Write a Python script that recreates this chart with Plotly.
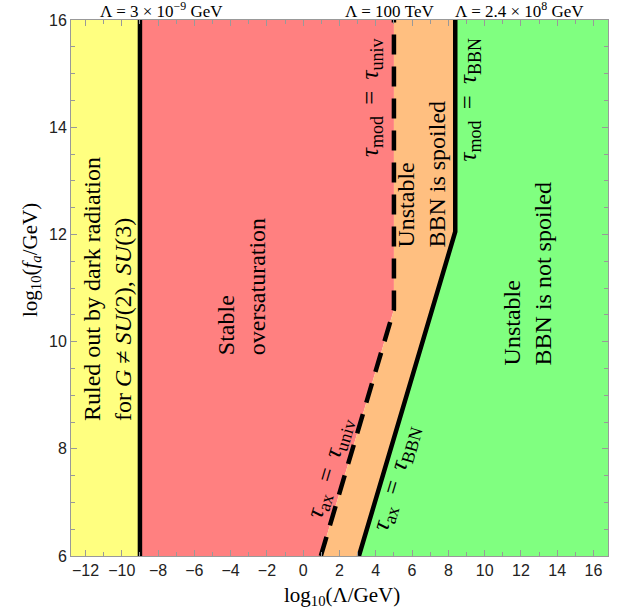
import plotly.graph_objects as go

# ---- data (log10 values) ----
x_min, x_max = -12.8, 16.8
y_min, y_max = 6.0, 16.0
dark_rad_x = -9.0                      # Lambda = 3e-9 GeV boundary
univ_x = [0.97, 5.0, 5.0]              # tau = tau_univ boundary
univ_y = [6.0, 10.6, 16.0]
bbn_x = [3.07, 8.38, 8.38]             # tau = tau_BBN boundary
bbn_y = [6.0, 12.05, 16.0]
x_ticks = list(range(-12, 17, 2))
y_ticks = list(range(6, 17, 2))

YELLOW = "#FFFF80"
RED = "#FF8080"
ORANGE = "#FFBF80"
GREEN = "#80FF80"

fig = go.Figure()

def poly(xs, ys, color):
    fig.add_trace(go.Scatter(x=xs, y=ys, fill="toself", fillcolor=color,
                             mode="lines", line=dict(width=0, color=color),
                             hoverinfo="skip", showlegend=False))

poly([x_min, dark_rad_x, dark_rad_x, x_min], [y_min, y_min, y_max, y_max], YELLOW)
poly([dark_rad_x] + univ_x + [dark_rad_x], [y_min] + univ_y + [y_max], RED)
poly(univ_x + bbn_x[::-1], univ_y + bbn_y[::-1], ORANGE)
poly(bbn_x + [x_max, x_max], bbn_y + [y_max, y_min], GREEN)

fig.add_trace(go.Scatter(x=[dark_rad_x, dark_rad_x], y=[y_min, y_max], mode="lines",
                         line=dict(color="black", width=4.5), showlegend=False))
fig.add_trace(go.Scatter(x=univ_x, y=univ_y, mode="lines",
                         line=dict(color="black", width=4.5, dash="20px,12px"), showlegend=False))
fig.add_trace(go.Scatter(x=bbn_x, y=bbn_y, mode="lines",
                         line=dict(color="black", width=4.5), showlegend=False))

SERIF = "Liberation Serif"
ann = []
def txt(x, y, t, size=24, angle=-90, xanchor="center", yanchor="middle", align="left"):
    ann.append(dict(x=x, y=y, xref="x", yref="y", text=t, showarrow=False,
                    textangle=angle, xanchor=xanchor, yanchor=yanchor, align=align,
                    font=dict(family=SERIF, size=size, color="black")))

SUB = "<sub><span style='font-size:18px'>%s</span></sub>"
def tau_eq(a, b):
    return "<i>τ</i>" + SUB % a + "&#8201; = &#8201;<i>τ</i>" + SUB % b

txt(-10.82, 8.48, "Ruled out by dark radiation<br>for <i>G</i> ≠ <i>SU</i>(2), <i>SU</i>(3)", yanchor="bottom")
txt(-3.4, 9.71, "Stable<br>oversaturation", yanchor="bottom")
txt(6.5, 11.71, "Unstable<br>BBN is spoiled", yanchor="bottom")
txt(12.34, 9.51, "Unstable<br>BBN is not spoiled", yanchor="bottom")
txt(3.75, 14.55, tau_eq("mod", "univ"), size=25)
txt(9.15, 14.52, tau_eq("mod", "BBN"), size=25)
txt(1.45, 7.64, tau_eq("ax", "univ"), size=25, angle=-73.5)
txt(5.15, 7.46, tau_eq("ax", "BBN"), size=25, angle=-73.5)

# top labels (paper coords)
for px, t in [(161, "Λ = 3 × 10<sup>−9</sup> GeV"), (389, "Λ = 100 TeV"),
              (519, "Λ = 2.4 × 10<sup>8</sup> GeV")]:
    ann.append(dict(x=(px - 71) / (608 - 71), y=1.0, xref="paper", yref="paper",
                    text=t, showarrow=False, xanchor="center", yanchor="bottom", yshift=-3,
                    font=dict(family=SERIF, size=17, color="black")))

# axis titles
ann.append(dict(x=(342 - 71) / (608 - 71), y=0, xref="paper", yref="paper",
                text="log<sub>10</sub>(Λ/GeV)", showarrow=False, xanchor="center",
                yanchor="top", yshift=-25, font=dict(family=SERIF, size=21, color="black")))
ann.append(dict(x=0, y=(556 - 260) / (556 - 20), xref="paper", yref="paper",
                text="log<sub>10</sub>(<i>f<sub>a</sub></i>/GeV)", showarrow=False,
                xanchor="center", yanchor="middle", xshift=-40, textangle=-90,
                font=dict(family=SERIF, size=21, color="black")))

axis_common = dict(showgrid=False, zeroline=False, showline=True, linecolor="#999999",
                   linewidth=1, mirror="ticks", ticks="inside", ticklen=6,
                   tickcolor="#999999", tickfont=dict(family="Liberation Sans", size=16,
                                                      color="#222222"))
fig.update_xaxes(range=[x_min, x_max], tickvals=x_ticks,
                 ticktext=[str(v).replace("-", "−") for v in x_ticks],
                 minor=dict(dtick=1, ticks="inside", ticklen=4, tickcolor="#999999"),
                 **axis_common)
fig.update_yaxes(range=[y_min, y_max], tickvals=y_ticks,
                 minor=dict(dtick=0.5, ticks="inside", ticklen=4, tickcolor="#999999"),
                 **axis_common)

fig.update_layout(width=618, height=609, margin=dict(l=71, r=10, t=20, b=53),
                  plot_bgcolor="white", paper_bgcolor="white", annotations=ann,
                  showlegend=False)
fig.write_html("out.html", config={"displayModeBar": False},
               post_script="document.body.style.margin='0';document.body.style.overflow='hidden';")
